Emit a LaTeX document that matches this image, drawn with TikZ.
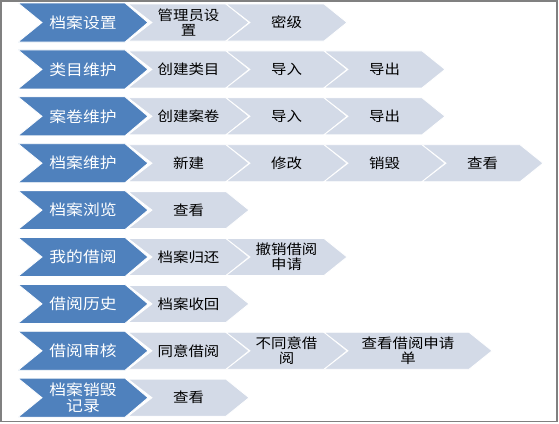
\documentclass[tikz,border=0pt]{standalone}
\usepackage{fontspec}
\newfontfamily\cjk[FakeStretch=1.12]{Noto Sans CJK SC}
\definecolor{chevblue}{HTML}{4F81BD}
\definecolor{chevgray}{HTML}{D3DAE7}
\definecolor{framegray}{HTML}{808080}
\tikzset{
  bluechev/.style={fill=chevblue,draw=white,line width=0.8pt},
  graychev/.style={fill=chevgray,draw=white,line width=0.8pt},
  bluechev text/.style={text=white,align=center,font=\cjk\fontsize{15}{16.5}\selectfont,inner sep=0pt},
  graychev text/.style={text=black,align=center,font=\cjk\fontsize{13.8}{15}\selectfont,inner sep=0pt},
}
% #1 style, #2 name, #3 left x, #4 centre y, #5 width, #6 half height, #7 text
\newcommand\chevshape[7]{%
  \path[#1] (#3,#4-#6) -- ({#3+#5-23},#4-#6) -- ({#3+#5},#4) -- ({#3+#5-23},#4+#6) -- (#3,#4+#6) -- ({#3+24},#4) -- cycle;
  \node[#1 text] (#2) at ({#3+#5/2},#4) {#7};
}
\begin{document}
\begin{tikzpicture}[x=1pt,y=-1pt]
\useasboundingbox (0,0) rectangle (559,423);
\draw[framegray,line width=1.2pt] (1,1) rectangle (557,421.5);
% row 1
\chevshape{graychev}{r1a}{128}{22.5}{121}{18.5}{管理员设\\置}
\chevshape{graychev}{r1b}{226}{22.5}{121}{18.5}{密级}
\chevshape{bluechev}{r1}{18}{22.5}{130}{19.5}{档案设置}
% row 2
\chevshape{graychev}{r2a}{128}{69.4}{121}{18.5}{创建类目}
\chevshape{graychev}{r2b}{226}{69.4}{121}{18.5}{导入}
\chevshape{graychev}{r2c}{324}{69.4}{121}{18.5}{导出}
\chevshape{bluechev}{r2}{18}{69.4}{130}{19.5}{类目维护}
% row 3
\chevshape{graychev}{r3a}{128}{116.3}{121}{18.5}{创建案卷}
\chevshape{graychev}{r3b}{226}{116.3}{121}{18.5}{导入}
\chevshape{graychev}{r3c}{324}{116.3}{121}{18.5}{导出}
\chevshape{bluechev}{r3}{18}{116.3}{130}{19.5}{案卷维护}
% row 4
\chevshape{graychev}{r4a}{128}{163.2}{121}{18.5}{新建}
\chevshape{graychev}{r4b}{226}{163.2}{121}{18.5}{修改}
\chevshape{graychev}{r4c}{324}{163.2}{121}{18.5}{销毁}
\chevshape{graychev}{r4d}{422}{163.2}{121}{18.5}{查看}
\chevshape{bluechev}{r4}{18}{163.2}{130}{19.5}{档案维护}
% row 5
\chevshape{graychev}{r5a}{128}{210.1}{121}{18.5}{查看}
\chevshape{bluechev}{r5}{18}{210.1}{130}{19.5}{档案浏览}
% row 6
\chevshape{graychev}{r6a}{128}{257}{121}{18.5}{档案归还}
\chevshape{graychev}{r6b}{226}{257}{121}{18.5}{撤销借阅\\申请}
\chevshape{bluechev}{r6}{18}{257}{130}{19.5}{我的借阅}
% row 7
\chevshape{graychev}{r7a}{128}{303.9}{121}{18.5}{档案收回}
\chevshape{bluechev}{r7}{18}{303.9}{130}{19.5}{借阅历史}
% row 8
\chevshape{graychev}{r8a}{128}{350.8}{121}{18.5}{同意借阅}
\chevshape{graychev}{r8b}{226}{350.8}{121}{18.5}{不同意借\\阅}
\chevshape{graychev}{r8c}{324}{350.8}{168}{18.5}{查看借阅申请\\单}
\chevshape{bluechev}{r8}{18}{350.8}{130}{19.5}{借阅审核}
% row 9
\chevshape{graychev}{r9a}{128}{397.7}{121}{18.5}{查看}
\chevshape{bluechev}{r9}{18}{397.7}{130}{19.5}{档案销毁\\记录}
\end{tikzpicture}
\end{document}
